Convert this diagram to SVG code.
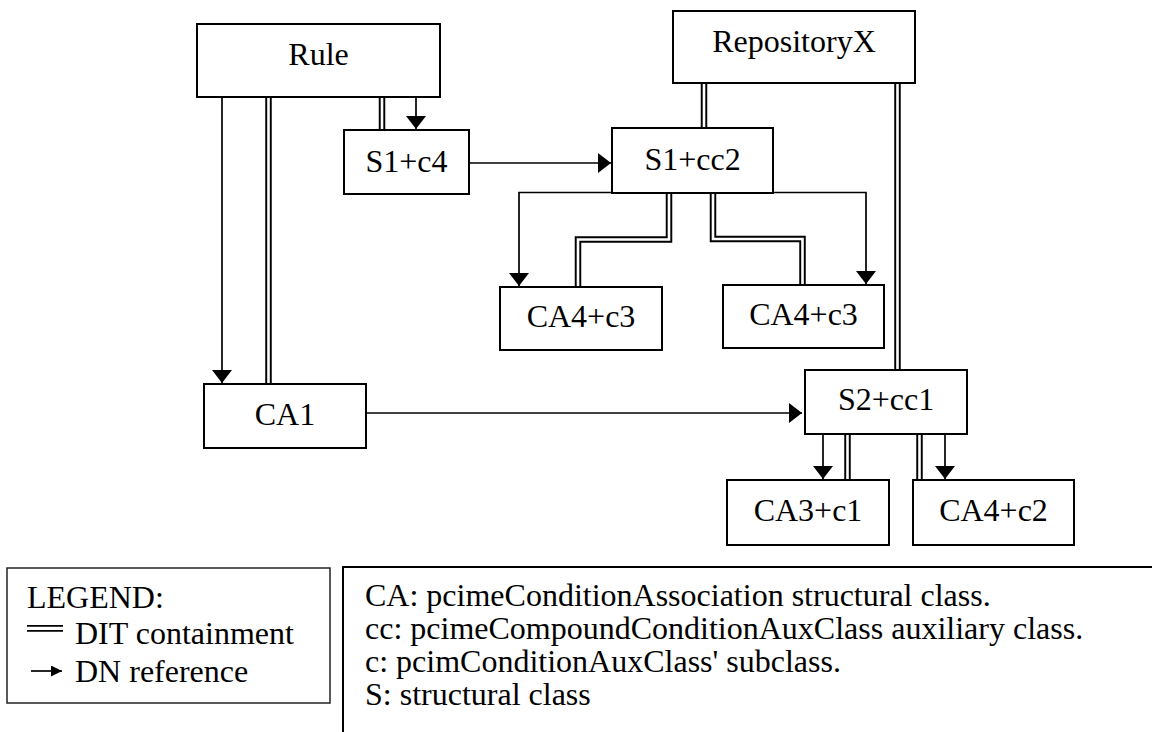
<svg xmlns="http://www.w3.org/2000/svg" width="1152" height="732" viewBox="0 0 1152 732">
  <defs>
    <style>
      .box { fill: #ffffff; stroke: #000000; stroke-width: 2; }
      .lbl { font-size: 32px; fill: #000000; text-anchor: middle; }
      .txt { font-size: 32px; fill: #000000; }
      .ref { fill: none; stroke: #000000; stroke-width: 1.7; marker-end: url(#head); }
      .dit-outer { fill: none; stroke: #000000; stroke-width: 6.5; stroke-linejoin: miter; }
      .dit-inner { fill: none; stroke: #ffffff; stroke-width: 2.6; stroke-linejoin: miter; }
    </style>
    <marker id="head" markerUnits="userSpaceOnUse" markerWidth="14" markerHeight="20" refX="13" refY="10" orient="auto">
      <path d="M0,0 L13,10 L0,20 z" fill="#000000"/>
    </marker>
    <marker id="head-small" markerUnits="userSpaceOnUse" markerWidth="12" markerHeight="11" refX="11" refY="5.5" orient="auto">
      <path d="M0,0 L11,5.5 L0,11 z" fill="#000000"/>
    </marker>
  </defs>

  <rect width="1152" height="732" fill="#ffffff"/>

  <!-- connectors: DIT containment (double lines) and DN references (arrows) -->
  <g id="connectors">
    <g id="dit-containment">
      <path class="dit-outer" d="M268.5,97 V384"/>
      <path class="dit-inner" d="M268.5,97 V384"/>
      <path class="dit-outer" d="M382,97 V130"/>
      <path class="dit-inner" d="M382,97 V130"/>
      <path class="dit-outer" d="M704,83 V128"/>
      <path class="dit-inner" d="M704,83 V128"/>
      <path class="dit-outer" d="M669,193 V239.5 H578 V287"/>
      <path class="dit-inner" d="M669,193 V239.5 H578 V287"/>
      <path class="dit-outer" d="M713,193 V239 H802.5 V285"/>
      <path class="dit-inner" d="M713,193 V239 H802.5 V285"/>
      <path class="dit-outer" d="M897.5,83 V370"/>
      <path class="dit-inner" d="M897.5,83 V370"/>
      <path class="dit-outer" d="M847.5,434 V480"/>
      <path class="dit-inner" d="M847.5,434 V480"/>
      <path class="dit-outer" d="M919.5,434 V480"/>
      <path class="dit-inner" d="M919.5,434 V480"/>
    </g>
    <g id="dn-references">
      <path class="ref" d="M222,97 V383"/>
      <path class="ref" d="M416,97 V129"/>
      <path class="ref" d="M469,163 H611"/>
      <path class="ref" d="M612,192.5 H519 V286"/>
      <path class="ref" d="M773,192.5 H866 V284"/>
      <path class="ref" d="M366,413 H802"/>
      <path class="ref" d="M823,434 V479"/>
      <path class="ref" d="M945,434 V479"/>
    </g>
  </g>

  <g font-family="'Liberation Serif', 'Times New Roman', Times, serif">
    <g id="rule">
      <rect class="box" x="197" y="24" width="243" height="73"/>
      <text class="lbl" x="318.5" y="65">Rule</text>
    </g>
    <g id="repositoryx">
      <rect class="box" x="673" y="11" width="242" height="72"/>
      <text class="lbl" x="794" y="52">RepositoryX</text>
    </g>
    <g id="s1-c4">
      <rect class="box" x="344" y="130" width="125" height="64"/>
      <text class="lbl" x="406.5" y="172">S1+c4</text>
    </g>
    <g id="s1-cc2">
      <rect class="box" x="612" y="128" width="161" height="65"/>
      <text class="lbl" x="692.5" y="170">S1+cc2</text>
    </g>
    <g id="ca4-c3-left">
      <rect class="box" x="500" y="287" width="162" height="63"/>
      <text class="lbl" x="581" y="327">CA4+c3</text>
    </g>
    <g id="ca4-c3-right">
      <rect class="box" x="723" y="285" width="161" height="63"/>
      <text class="lbl" x="803.5" y="325">CA4+c3</text>
    </g>
    <g id="ca1">
      <rect class="box" x="204" y="384" width="162" height="64"/>
      <text class="lbl" x="285" y="425">CA1</text>
    </g>
    <g id="s2-cc1">
      <rect class="box" x="805" y="370" width="162" height="64"/>
      <text class="lbl" x="886" y="410">S2+cc1</text>
    </g>
    <g id="ca3-c1">
      <rect class="box" x="727" y="480" width="162" height="65"/>
      <text class="lbl" x="808" y="521">CA3+c1</text>
    </g>
    <g id="ca4-c2">
      <rect class="box" x="913" y="480" width="161" height="65"/>
      <text class="lbl" x="993.5" y="521">CA4+c2</text>
    </g>

    <!-- legend -->
    <g id="legend">
      <rect x="7" y="568" width="323" height="135" fill="#ffffff" stroke="#222222" stroke-width="1.5"/>
      <text class="txt" x="27" y="608">LEGEND:</text>
      <line x1="27" y1="625.8" x2="63" y2="625.8" stroke="#000000" stroke-width="1.8"/>
      <line x1="27" y1="630.8" x2="63" y2="630.8" stroke="#000000" stroke-width="1.8"/>
      <text class="txt" x="75" y="644">DIT containment</text>
      <line x1="31" y1="671" x2="62" y2="671" stroke="#000000" stroke-width="1.7" marker-end="url(#head-small)"/>
      <text class="txt" x="75" y="682">DN reference</text>
    </g>

    <!-- abbreviation notes -->
    <g id="notes">
      <path d="M343,732 V567 H1152" fill="none" stroke="#000000" stroke-width="2"/>
      <text class="txt" x="365" y="606">CA: pcimeConditionAssociation structural class.</text>
      <text class="txt" x="365" y="639">cc: pcimeCompoundConditionAuxClass auxiliary class.</text>
      <text class="txt" x="365" y="672">c: pcimConditionAuxClass' subclass.</text>
      <text class="txt" x="365" y="705">S: structural class</text>
    </g>
  </g>
</svg>
